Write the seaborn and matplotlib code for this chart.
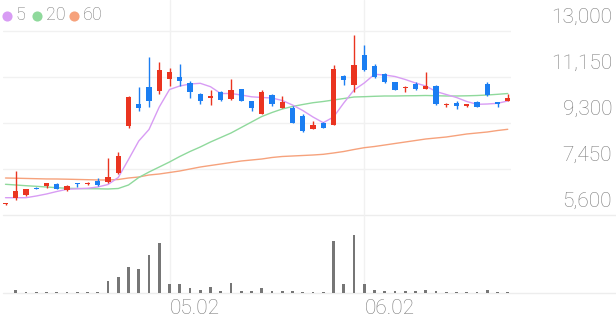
import numpy as np
import pandas as pd
import matplotlib
matplotlib.use("Agg")
import matplotlib.pyplot as plt
import seaborn as sns
from matplotlib.lines import Line2D
from matplotlib.transforms import blended_transform_factory, ScaledTranslation

# ---------------- data ----------------
opens = [6030, 6270, 6390, 6670, 6766, 6847, 6593, 6899, 6835, 6955,
         6927, 7277, 9179, 10052, 10736, 10599, 11070, 11138, 10897, 10478,
         10318, 10547, 10253, 10655, 10185, 9650, 10426, 9916, 9891, 9582,
         9047, 9288, 9220, 11202, 10828, 12035, 11604, 11259, 10937, 10708,
         10856, 10680, 10788, 10024, 10092, 9996, 10157, 10856, 10133, 10185]
highs = [6080, 7380, 6650, 6740, 6887, 6867, 6790, 6900, 6927, 7088,
         7892, 8122, 10386, 10736, 11942, 11765, 11500, 11661, 10989, 10507,
         10627, 10587, 11058, 10667, 10205, 10615, 10466, 10398, 9984, 9650,
         9368, 9328, 11645, 11230, 12839, 12437, 11673, 11291, 10950, 10788,
         10937, 11363, 10816, 10104, 10185, 10064, 10165, 10961, 10145, 10454]
lows = [6000, 6200, 6360, 6630, 6674, 6626, 6585, 6738, 6794, 6786,
        6907, 7249, 9111, 9783, 9956, 10454, 10788, 10800, 10293, 10052,
        10024, 10205, 10245, 10173, 9783, 9642, 9996, 9903, 9300, 8926,
        9039, 9079, 9200, 10828, 10559, 11411, 11130, 10909, 10620, 10559,
        10645, 10667, 10012, 9944, 9863, 9944, 9944, 10406, 9944, 10165]
closes = [6050, 6580, 6630, 6634, 6875, 6646, 6778, 6847, 6875, 6794,
          7116, 7985, 10358, 9916, 10185, 11420, 11339, 11001, 10559, 10185,
          10358, 10225, 10627, 10197, 9891, 10559, 10052, 10133, 9312, 8978,
          9220, 9087, 11472, 11029, 11633, 11432, 11162, 10937, 10639, 10736,
          10655, 10800, 10052, 10064, 9984, 10036, 9944, 10426, 10076, 10293]
ma5 = [6296, 6296, 6296, 6364, 6445, 6545, 6634, 6654, 6674, 6726,
       6827, 7108, 7832, 8576, 9039, 9944, 10647, 10788, 10869, 10897,
       10760, 10486, 10486, 10426, 10354, 10326, 10306, 10205, 10024, 9803,
       9541, 9312, 9541, 10104, 10627, 10909, 11259, 11230, 11170, 11050,
       10909, 10788, 10567, 10446, 10326, 10165, 10052, 10064, 10092, 10185]
ma20 = [6835, 6807, 6778, 6754, 6726, 6698, 6674, 6666, 6658, 6654,
        6646, 6666, 6807, 7108, 7329, 7530, 7732, 7953, 8154, 8335,
        8536, 8717, 8898, 9119, 9340, 9561, 9722, 9863, 9964, 10044,
        10116, 10165, 10225, 10285, 10346, 10358, 10374, 10386, 10386, 10394,
        10398, 10406, 10398, 10386, 10386, 10394, 10406, 10426, 10454, 10486]
ma60 = [7088, 7080, 7070, 7060, 7050, 7048, 7040, 7030, 7020, 7010,
        7008, 7028, 7088, 7128, 7209, 7249, 7309, 7370, 7450, 7530,
        7591, 7651, 7712, 7772, 7812, 7852, 7913, 7953, 7973, 7993,
        8013, 8041, 8094, 8154, 8234, 8307, 8355, 8415, 8476, 8536,
        8596, 8657, 8697, 8737, 8797, 8858, 8898, 8938, 8998, 9047]
volumes = [5000, 27000, 7000, 7000, 7000, 7000, 7000, 7000, 7000, 10000,
           123000, 160000, 257000, 243000, 380000, 497000, 87000, 87000, 47000, 33000,
           57000, 20000, 100000, 20000, 23000, 47000, 23000, 23000, 23000, 15000,
           10000, 10000, 517000, 90000, 577000, 93000, 30000, 20000, 17000, 17000,
           17000, 27000, 17000, 7000, 7000, 7000, 7000, 33000, 7000, 7000]
date_ticks = {16: "05.02", 35: "06.02"}
price_ticks = [13000, 11150, 9300, 7450, 5600]
ma_names = ["5", "20", "60"]

# ---------------- style ----------------
RED = "#ea3420"
BLUE = "#1b7ef2"
C_MA5 = "#d89cf4"
C_MA20 = "#8fd99c"
C_MA60 = "#f6a27c"
GRID = "#f1f1f1"
TXT = "#7a7a7a"
VOL = "#767676"

sns.set_theme(style="white")
plt.rcParams["font.family"] = ["Roboto", "DejaVu Sans"]

W, H = 616, 321
fig = plt.figure(figsize=(W / 100, H / 100), dpi=100)


def fbox(l, t, r, b):
    return [l / W, (H - b) / H, (r - l) / W, (b - t) / H]


ax = fig.add_axes(fbox(3, 0, 511, 215))
axv = fig.add_axes(fbox(3, 215, 511, 293))

n = len(closes)
df = pd.DataFrame({"idx": np.arange(n), "open": opens, "high": highs,
                   "low": lows, "close": closes, "ma5": ma5, "ma20": ma20,
                   "ma60": ma60, "vol": volumes})

xlim = (-0.244, 49.317)
for a in (ax, axv):
    a.set_xlim(*xlim)
    for s in a.spines.values():
        s.set_visible(False)
    a.set_xticks([])
    a.set_yticks([])
    a.set_facecolor("none")
    for k in date_ticks:
        a.axvline(k, color=GRID, lw=1.0, zorder=0)

ax.set_ylim(5600, 14247)
for p in price_ticks[:-1]:
    ax.axhline(p, color=GRID, lw=1.0, zorder=0)

# moving averages
sns.lineplot(data=df, x="idx", y="ma60", ax=ax, color=C_MA60, lw=1.0, legend=False, zorder=2)
sns.lineplot(data=df, x="idx", y="ma20", ax=ax, color=C_MA20, lw=1.0, legend=False, zorder=2)
sns.lineplot(data=df, x="idx", y="ma5", ax=ax, color=C_MA5, lw=1.0, legend=False, zorder=2)
ax.set_xlabel("")
ax.set_ylabel("")

# candles
up = df["close"] >= df["open"]
cols = np.where(up, RED, BLUE)
ax.vlines(df["idx"], df["low"], df["high"], colors=cols, lw=1.0, zorder=3)
body_lo = np.minimum(df["open"], df["close"])
body_h = np.maximum(np.abs(df["close"] - df["open"]), 55)
ax.bar(df["idx"], body_h, bottom=body_lo, width=0.5, color=cols, linewidth=0, zorder=4)

# volume
axv.set_ylim(0, 780000)
axv.bar(df["idx"], df["vol"], width=0.28, color=VOL, linewidth=0, zorder=3)
axv.set_xlabel("")
axv.set_ylabel("")

# full-width separator lines (5,600 line and volume baseline)
for ypx in (215, 293):
    fig.add_artist(Line2D([3 / W, 1.0], [(H - ypx) / H] * 2, color="#ededed",
                          lw=1.0, transform=fig.transFigure, zorder=0))

# right price labels (drawn above their gridline)
tr = blended_transform_factory(fig.transFigure, ax.transData) + \
    ScaledTranslation(0, 13.5 / 100, fig.dpi_scale_trans)
for p in price_ticks:
    ax.text(612 / W, p, f"{p:,}", transform=tr, ha="right", va="center",
            fontsize=15, color=TXT, fontweight="light", clip_on=False)

# date labels
trx = blended_transform_factory(axv.transData, fig.transFigure)
for k, lab in date_ticks.items():
    axv.text(k + 0.05, (H - 308.5) / H, lab, transform=trx, ha="left",
             va="center", fontsize=15, color=TXT, fontweight="light", clip_on=False)

# legend
leg_cols = [C_MA5, C_MA20, C_MA60]
dot_x = [6.7, 37.0, 74.0]
txt_x = [15.5, 46.0, 82.5]
for name, c, dx, tx in zip(ma_names, leg_cols, dot_x, txt_x):
    fig.add_artist(Line2D([dx / W], [(H - 15.5) / H], marker="o", markersize=7.3,
                          color=c, markeredgewidth=0, linestyle="none",
                          transform=fig.transFigure))
    fig.text(tx / W, (H - 15.5) / H, name, ha="left", va="center",
             fontsize=13, color=TXT, fontweight="light")

fig.savefig("out.png", dpi=100)
